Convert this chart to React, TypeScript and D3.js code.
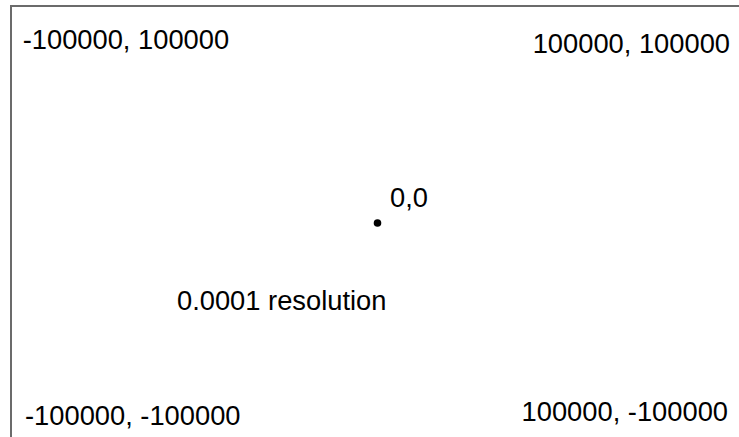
import React from "react";
import * as d3 from "d3";

const pointX = [-100000, 100000, -100000, 100000, 0];
const pointY = [100000, 100000, -100000, -100000, 0];
const pointLabels = ["-100000, 100000", "100000, 100000", "-100000, -100000", "100000, -100000", "0,0"];
const noteText = ["0.0001 resolution"];
const noteX = [-56600];
const noteY = [-43500];

const W = 739;
const H = 437;

export default function App() {
  const x = d3.scaleLinear().domain([-100000, 100000]).range([24, 729]);
  const y = d3.scaleLinear().domain([-100000, 100000]).range([423, 23]);
  const font = "'Liberation Sans', Arial, sans-serif";
  const fs = 27.3;

  return (
    <svg
      width={W}
      height={H}
      style={{ position: "absolute", left: 0, top: 0, background: "#fff" }}
    >
      <rect x={11} y={6} width={W + 20} height={H + 20} fill="#fff" stroke="#6b6b6b" strokeWidth={2} />
      {pointLabels.map((lab, i) => {
        const px = x(pointX[i]);
        const py = y(pointY[i]);
        if (pointX[i] === 0 && pointY[i] === 0) {
          return (
            <g key={i}>
              <circle cx={px + 1} cy={py} r={3.8} fill="#000" />
              <text x={px + 13.5} y={py - 16} fontFamily={font} fontSize={fs} fill="#000">
                {lab}
              </text>
            </g>
          );
        }
        const anchor = pointX[i] < 0 ? "start" : "end";
        const top = pointY[i] > 0;
        const dy = top ? (pointX[i] < 0 ? 25.5 : 30) : (pointX[i] < 0 ? 2 : -2);
        const dx = pointX[i] < 0 ? (top ? -1.3 : 1) : (top ? 1 : -1);
        return (
          <text key={i} x={px + dx} y={py + dy} textAnchor={anchor} fontFamily={font} fontSize={fs} fill="#000">
            {lab}
          </text>
        );
      })}
      {noteText.map((t, i) => (
        <text key={"n" + i} x={x(noteX[i])} y={y(noteY[i])} fontFamily={font} fontSize={fs} fill="#000">
          {t}
        </text>
      ))}
    </svg>
  );
}
